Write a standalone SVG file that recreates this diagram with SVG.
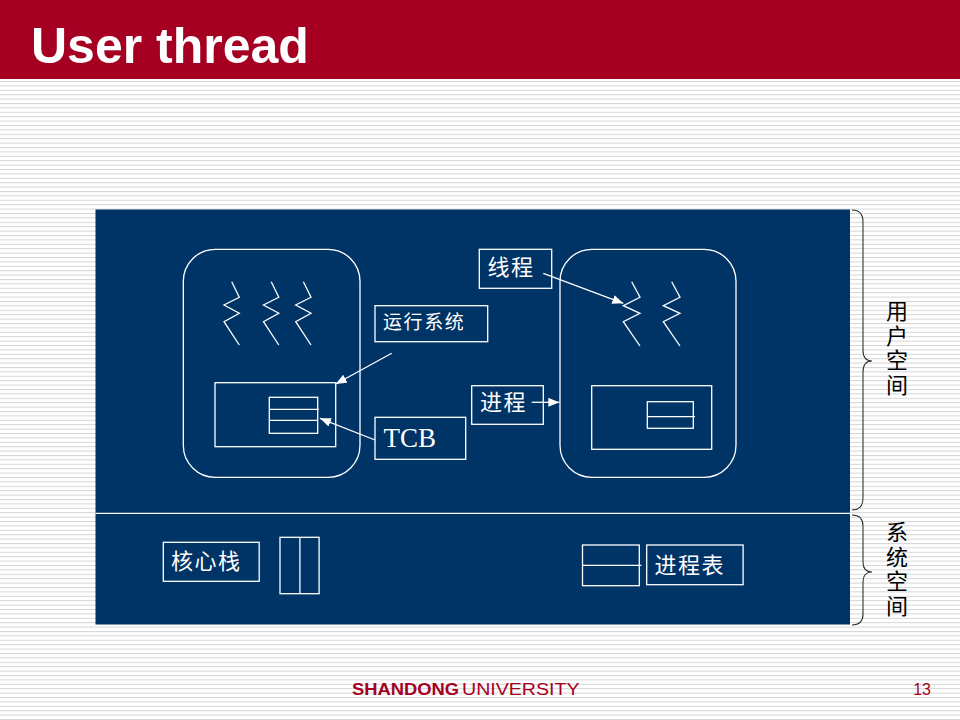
<svg xmlns="http://www.w3.org/2000/svg" width="960" height="720" viewBox="0 0 960 720">
<defs>
<pattern id="stripes" x="0" y="81" width="10" height="4.4" patternUnits="userSpaceOnUse">
<rect x="0" y="0" width="10" height="1" fill="#d4d4d4"/>
</pattern>
<marker id="ah" markerUnits="userSpaceOnUse" markerWidth="11" markerHeight="9" refX="11" refY="4.5" orient="auto">
<path d="M0,0 L11,4.5 L0,9 z" fill="#ffffff"/>
</marker>
<style>
.w{fill:none;stroke:#ffffff;stroke-width:1.3}
.box{fill:none;stroke:#ffffff;stroke-width:1.3}
.cjk{font-family:"Noto Sans CJK SC","Noto Sans CJK TC",sans-serif;fill:#ffffff}
.vt{font-family:"Noto Sans CJK SC","Noto Sans CJK TC",sans-serif;fill:#000000;font-size:22px;writing-mode:vertical-rl;letter-spacing:2.5px}
.brace{fill:none;stroke:#333333;stroke-width:1.1}
.conn{fill:none;stroke:#ffffff;stroke-width:1.3;marker-end:url(#ah)}
.zig{fill:none;stroke:#ffffff;stroke-width:1.3}
</style>
</defs>
<rect x="0" y="0" width="960" height="720" fill="#ffffff"/>
<rect x="0" y="80" width="960" height="640" fill="url(#stripes)"/>
<g id="header">
<rect x="0" y="0" width="960" height="79" fill="#a50021"/>
<text x="31" y="63" font-family="Liberation Sans, Arial, sans-serif" font-weight="bold" font-size="50" fill="#ffffff">User thread</text>
</g>
<g id="panel">
<rect x="95.5" y="209.5" width="754.5" height="415" fill="#003366"/>
<line x1="95.5" y1="513.3" x2="850" y2="513.3" stroke="#ffffff" stroke-width="1.3"/>
</g>
<g id="process-left">
<rect x="183.3" y="249.3" width="176.7" height="228" rx="32" ry="32" class="w"/>
<polyline class="zig" points="231.7,281.7 239.3,297.3 224,305 239.3,313.3 224,321.7 239.3,345"/>
<polyline class="zig" points="271.2,281.7 278.8,297.3 263.5,305 278.8,313.3 263.5,321.7 278.8,345"/>
<polyline class="zig" points="303.4,281.7 311,297.3 295.7,305 311,313.3 295.7,321.7 311,345"/>
<rect x="215" y="382.7" width="120.7" height="64" class="box"/>
<rect x="269.3" y="397.3" width="48.4" height="36" class="box"/>
<line x1="269.3" y1="409.3" x2="319" y2="409.3" class="w"/>
<line x1="269.3" y1="420.3" x2="317.7" y2="420.3" class="w"/>
</g>
<g id="process-right">
<rect x="560" y="249.3" width="176" height="228" rx="32" ry="32" class="w"/>
<polyline class="zig" points="631.7,281.7 640,297.3 623.3,305.7 640,313.3 623.3,321.7 640,346"/>
<polyline class="zig" points="671.7,281.7 680,297.3 663.3,305.7 680,313.3 663.3,321.7 680,346"/>
<rect x="591.7" y="385.7" width="120" height="63.6" class="box"/>
<rect x="647.3" y="401.7" width="46" height="26.6" class="box"/>
<line x1="647.3" y1="416.7" x2="695" y2="416.7" class="w"/>
</g>
<g id="label-runtime">
<rect x="375" y="305.7" width="112.7" height="36" class="box"/>
<text x="383" y="328.5" class="cjk" font-size="19" letter-spacing="1.6">运行系统</text>
</g>
<g id="label-tcb">
<rect x="375" y="417.3" width="90.7" height="42" class="box"/>
<text x="383.5" y="446.7" font-family="Liberation Serif, Times New Roman, serif" font-size="27" fill="#ffffff">TCB</text>
</g>
<g id="label-thread">
<rect x="479.3" y="249.3" width="72.4" height="39" class="box"/>
<text x="487.5" y="275" class="cjk" font-size="22" letter-spacing="1.5">线程</text>
</g>
<g id="label-process">
<rect x="471.7" y="385.7" width="71.6" height="38.6" class="box"/>
<text x="480" y="410" class="cjk" font-size="22" letter-spacing="1.5">进程</text>
</g>
<g id="kernel-stack">
<rect x="163.3" y="542.3" width="95.9" height="39" class="box"/>
<text x="171" y="568.5" class="cjk" font-size="22" letter-spacing="1.5">核心栈</text>
<rect x="280" y="537.3" width="39.1" height="56.4" class="box"/>
<line x1="299.9" y1="537.3" x2="299.9" y2="593.7" class="w"/>
</g>
<g id="process-table">
<rect x="582.5" y="545" width="56.8" height="40.7" class="box"/>
<line x1="582.5" y1="565.3" x2="641.4" y2="565.3" class="w"/>
<rect x="646.7" y="545" width="96.4" height="39.7" class="box"/>
<text x="654.5" y="572.5" class="cjk" font-size="22" letter-spacing="1.5">进程表</text>
</g>
<g id="connectors">
<line x1="391.7" y1="353.3" x2="335.7" y2="384" class="conn"/>
<line x1="375" y1="440" x2="320" y2="418.3" class="conn"/>
<line x1="543.3" y1="273.3" x2="623.3" y2="303.3" class="conn"/>
<line x1="531.7" y1="402.3" x2="559.3" y2="402.3" class="conn"/>
</g>
<g id="user-space">
<path class="brace" d="M852,210 Q863,210 863,222 L863,350 Q863,361 872,361 Q863,361 863,372 L863,498 Q863,510 852,510"/>
<text class="vt" x="897" y="300">用户空间</text>
</g>
<g id="system-space">
<path class="brace" d="M852,515 Q863,515 863,526 L863,562 Q863,572 872,572 Q863,572 863,582 L863,614 Q863,625 852,625"/>
<text class="vt" x="897" y="521">系统空间</text>
</g>
<g id="footer">
<text x="352" y="695" font-family="Liberation Sans, Arial, sans-serif" font-weight="bold" font-size="16" fill="#a50021" textLength="107" lengthAdjust="spacingAndGlyphs">SHANDONG</text>
<text x="462" y="695" font-family="Liberation Sans, Arial, sans-serif" font-size="16" fill="#a50021" textLength="117.5" lengthAdjust="spacingAndGlyphs">UNIVERSITY</text>
<text x="931" y="695" font-family="Liberation Sans, Arial, sans-serif" font-size="16" fill="#a50021" text-anchor="end">13</text>
</g>
</svg>
